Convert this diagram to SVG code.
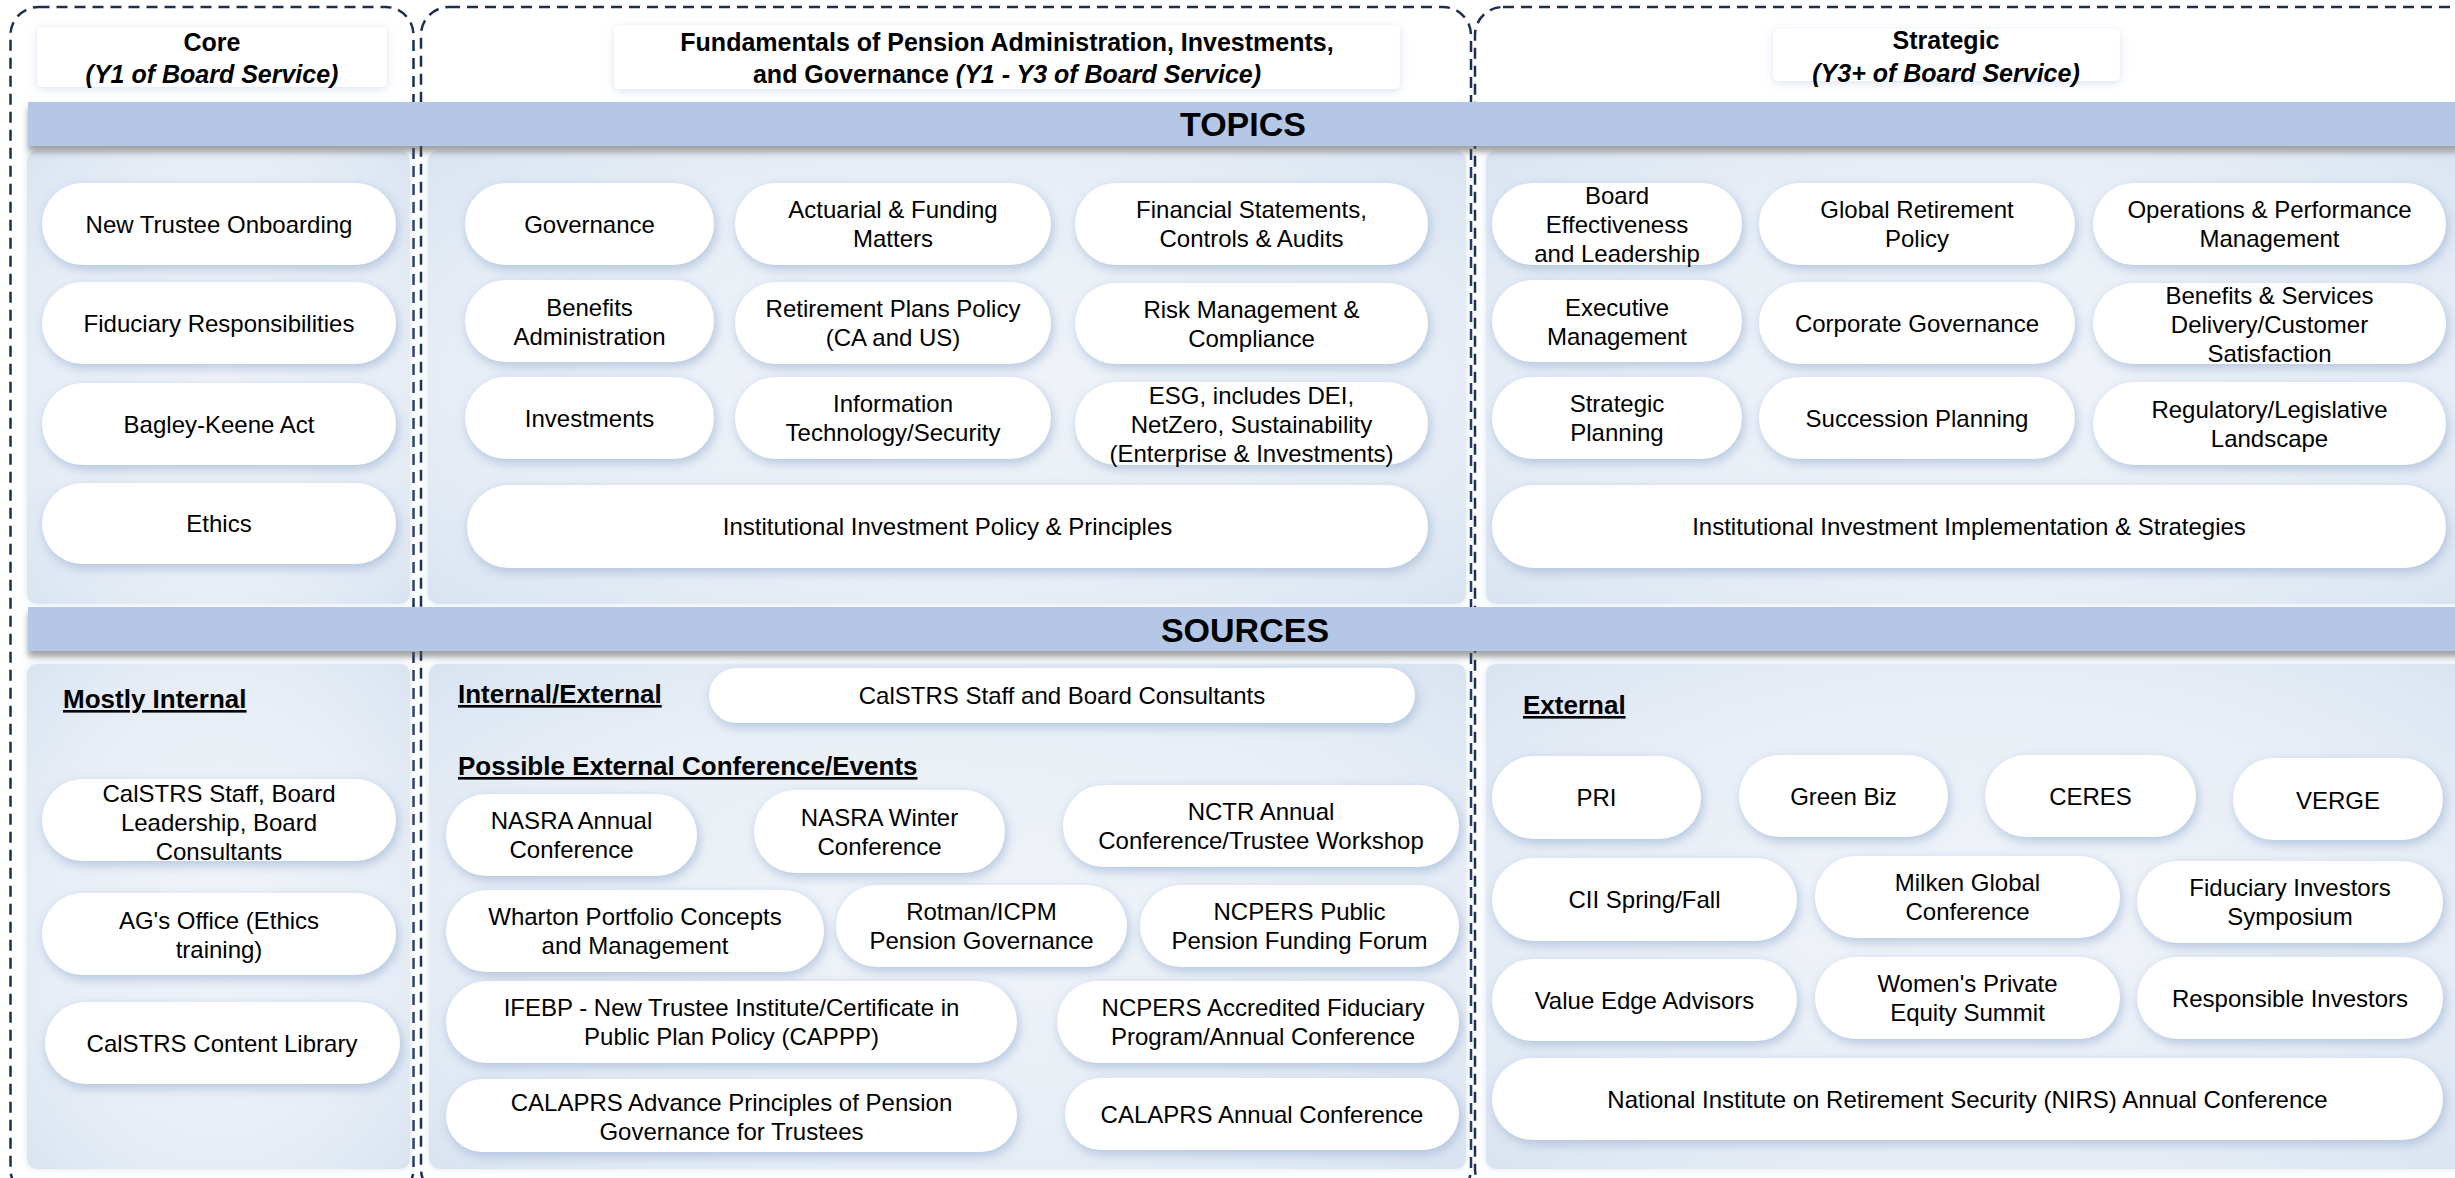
<svg xmlns="http://www.w3.org/2000/svg" width="2455" height="1178" viewBox="0 0 2455 1178">
<style>
text{font-family:"Liberation Sans",Arial,sans-serif;fill:#000}
.t{font-size:24px;text-anchor:middle}
.h{font-size:25px;font-weight:bold;text-anchor:middle}
.band-t{font-size:34px;font-weight:bold;text-anchor:middle}
.sub{font-size:26px;font-weight:bold;text-decoration:underline}
.pill{fill:#fff;filter:url(#pillSh)}
.panel{fill:url(#panelG);filter:url(#panelSh)}
.band{fill:#b4c7e7;filter:url(#bandSh)}
.hdr{fill:#fff;filter:url(#hdrSh)}
.frame{fill:none;stroke:#1b2f55;stroke-width:2.5;stroke-dasharray:11 7}
</style>
<defs>
<radialGradient id="panelG" cx="0.5" cy="0.5" r="0.75">
<stop offset="0" stop-color="#f1f4f9"/>
<stop offset="0.6" stop-color="#e8eef6"/>
<stop offset="1" stop-color="#d7e2f0"/>
</radialGradient>
<filter id="pillSh" x="-20%" y="-30%" width="140%" height="160%">
<feDropShadow dx="2" dy="4" stdDeviation="6" flood-color="#9fb5d6" flood-opacity="0.75"/>
</filter>
<filter id="panelSh" x="-5%" y="-5%" width="110%" height="110%">
<feDropShadow dx="0" dy="0" stdDeviation="4" flood-color="#c9d7ea" flood-opacity="0.6"/>
</filter>
<filter id="bandSh" x="-2%" y="-30%" width="104%" height="180%">
<feDropShadow dx="0" dy="6" stdDeviation="3" flood-color="#555" flood-opacity="0.55"/>
</filter>
<filter id="hdrSh" x="-10%" y="-30%" width="120%" height="160%">
<feDropShadow dx="0" dy="2" stdDeviation="5" flood-color="#c9d7ea" flood-opacity="0.7"/>
</filter>
</defs>
<rect x="0" y="0" width="2455" height="1178" fill="#fff"/>

<g id="frames">
<rect class="frame" x="10.5" y="7" width="403" height="1190" rx="28"/>
<rect class="frame" x="421" y="7" width="1050" height="1190" rx="28"/>
<rect class="frame" x="1475" y="7" width="1100" height="1190" rx="28"/>
</g>

<g id="headers">
<g id="hdr-core">
<rect class="hdr" x="37" y="27" width="350" height="60" rx="5"/>
<text class="h" x="212" y="51">Core</text>
<text class="h" x="212" y="83" font-style="italic">(Y1 of Board Service)</text>
</g>
<g id="hdr-fund">
<rect class="hdr" x="614" y="25" width="786" height="64" rx="5"/>
<text class="h" x="1007" y="51">Fundamentals of Pension Administration, Investments,</text>
<text class="h" x="1007" y="83">and Governance <tspan font-style="italic">(Y1 - Y3 of Board Service)</tspan></text>
</g>
<g id="hdr-strat">
<rect class="hdr" x="1773" y="29" width="347" height="52" rx="5"/>
<text class="h" x="1946" y="49">Strategic</text>
<text class="h" x="1946" y="82" font-style="italic">(Y3+ of Board Service)</text>
</g>
</g>

<g id="panels">
<rect class="panel" x="27" y="151" width="383" height="453" rx="10"/>
<rect class="panel" x="428" y="151" width="1038" height="453" rx="10"/>
<rect class="panel" x="1486" y="151" width="990" height="453" rx="10"/>
<rect class="panel" x="27" y="664" width="383" height="505" rx="10"/>
<rect class="panel" x="429" y="664" width="1037" height="505" rx="10"/>
<rect class="panel" x="1486" y="664" width="990" height="505" rx="10"/>
</g>

<g id="band-topics">
<rect class="band" x="28" y="102" width="2440" height="44"/>
<text class="band-t" x="1243" y="136">TOPICS</text>
</g>
<g id="band-sources">
<rect class="band" x="28" y="607" width="2440" height="44"/>
<text class="band-t" x="1245" y="642">SOURCES</text>
</g>

<g id="core-topics">
<g id="n-onboarding"><rect class="pill" x="42" y="183" width="354" height="82" rx="41"/><text class="t" x="219" y="232.5">New Trustee Onboarding</text></g>
<g id="n-fiduciary"><rect class="pill" x="42" y="282" width="354" height="82" rx="41"/><text class="t" x="219" y="331.5">Fiduciary Responsibilities</text></g>
<g id="n-bagley"><rect class="pill" x="42" y="383" width="354" height="82" rx="41"/><text class="t" x="219" y="432.5">Bagley-Keene Act</text></g>
<g id="n-ethics"><rect class="pill" x="42" y="483" width="354" height="81" rx="40.5"/><text class="t" x="219" y="532">Ethics</text></g>
</g>

<g id="fund-topics">
<g id="n-governance"><rect class="pill" x="465" y="183" width="249" height="82" rx="41"/><text class="t" x="589.5" y="232.5">Governance</text></g>
<g id="n-actuarial"><rect class="pill" x="735" y="183" width="316" height="82" rx="41"/><text class="t" x="893" y="218">Actuarial &amp; Funding<tspan x="893" dy="29">Matters</tspan></text></g>
<g id="n-financial"><rect class="pill" x="1075" y="183" width="353" height="82" rx="41"/><text class="t" x="1251.5" y="218">Financial Statements,<tspan x="1251.5" dy="29">Controls &amp; Audits</tspan></text></g>
<g id="n-benefits"><rect class="pill" x="465" y="280" width="249" height="82" rx="41"/><text class="t" x="589.5" y="316">Benefits<tspan x="589.5" dy="29">Administration</tspan></text></g>
<g id="n-retirement"><rect class="pill" x="735" y="282" width="316" height="82" rx="41"/><text class="t" x="893" y="317">Retirement Plans Policy<tspan x="893" dy="29">(CA and US)</tspan></text></g>
<g id="n-risk"><rect class="pill" x="1075" y="283" width="353" height="81" rx="40.5"/><text class="t" x="1251.5" y="317.5">Risk Management &amp;<tspan x="1251.5" dy="29">Compliance</tspan></text></g>
<g id="n-investments"><rect class="pill" x="465" y="377" width="249" height="82" rx="41"/><text class="t" x="589.5" y="426.5">Investments</text></g>
<g id="n-it"><rect class="pill" x="735" y="377" width="316" height="82" rx="41"/><text class="t" x="893" y="412">Information<tspan x="893" dy="29">Technology/Security</tspan></text></g>
<g id="n-esg"><rect class="pill" x="1075" y="382" width="353" height="83" rx="41.5"/><text class="t" x="1251.5" y="404">ESG, includes DEI,<tspan x="1251.5" dy="29">NetZero, Sustainability</tspan><tspan x="1251.5" dy="29">(Enterprise &amp; Investments)</tspan></text></g>
<g id="n-inst-policy"><rect class="pill" x="467" y="485" width="961" height="83" rx="41.5"/><text class="t" x="947.5" y="535">Institutional Investment Policy &amp; Principles</text></g>
</g>

<g id="strat-topics">
<g id="n-board"><rect class="pill" x="1492" y="183" width="250" height="82" rx="41"/><text class="t" x="1617" y="203.5">Board<tspan x="1617" dy="29">Effectiveness</tspan><tspan x="1617" dy="29">and Leadership</tspan></text></g>
<g id="n-global"><rect class="pill" x="1759" y="183" width="316" height="82" rx="41"/><text class="t" x="1917" y="218">Global Retirement<tspan x="1917" dy="29">Policy</tspan></text></g>
<g id="n-operations"><rect class="pill" x="2093" y="183" width="353" height="82" rx="41"/><text class="t" x="2269.5" y="218">Operations &amp; Performance<tspan x="2269.5" dy="29">Management</tspan></text></g>
<g id="n-executive"><rect class="pill" x="1492" y="280" width="250" height="82" rx="41"/><text class="t" x="1617" y="316">Executive<tspan x="1617" dy="29">Management</tspan></text></g>
<g id="n-corporate"><rect class="pill" x="1759" y="282" width="316" height="82" rx="41"/><text class="t" x="1917" y="331.5">Corporate Governance</text></g>
<g id="n-services"><rect class="pill" x="2093" y="283" width="353" height="81" rx="40.5"/><text class="t" x="2269.5" y="304">Benefits &amp; Services<tspan x="2269.5" dy="29">Delivery/Customer</tspan><tspan x="2269.5" dy="29">Satisfaction</tspan></text></g>
<g id="n-strategic-planning"><rect class="pill" x="1492" y="377" width="250" height="82" rx="41"/><text class="t" x="1617" y="412">Strategic<tspan x="1617" dy="29">Planning</tspan></text></g>
<g id="n-succession"><rect class="pill" x="1759" y="377" width="316" height="82" rx="41"/><text class="t" x="1917" y="426.5">Succession Planning</text></g>
<g id="n-regulatory"><rect class="pill" x="2093" y="382" width="353" height="83" rx="41.5"/><text class="t" x="2269.5" y="418">Regulatory/Legislative<tspan x="2269.5" dy="29">Landscape</tspan></text></g>
<g id="n-inst-impl"><rect class="pill" x="1492" y="485" width="954" height="83" rx="41.5"/><text class="t" x="1969" y="535">Institutional Investment Implementation &amp; Strategies</text></g>
</g>

<g id="core-sources">
<text class="sub" x="63" y="708">Mostly Internal</text>
<g id="n-staff-board"><rect class="pill" x="42" y="779" width="354" height="82" rx="41"/><text class="t" x="219" y="801.5">CalSTRS Staff, Board<tspan x="219" dy="29">Leadership, Board</tspan><tspan x="219" dy="29">Consultants</tspan></text></g>
<g id="n-ag"><rect class="pill" x="42" y="893" width="354" height="82" rx="41"/><text class="t" x="219" y="929">AG's Office (Ethics<tspan x="219" dy="29">training)</tspan></text></g>
<g id="n-library"><rect class="pill" x="45" y="1002" width="355" height="82" rx="41"/><text class="t" x="222" y="1051.5">CalSTRS Content Library</text></g>
</g>

<g id="fund-sources">
<text class="sub" x="458" y="703">Internal/External</text>
<g id="n-staff-consultants"><rect class="pill" x="709" y="668" width="706" height="55" rx="27.5"/><text class="t" x="1062" y="704">CalSTRS Staff and Board Consultants</text></g>
<text class="sub" x="458" y="775">Possible External Conference/Events</text>
<g id="n-nasra-annual"><rect class="pill" x="446" y="794" width="251" height="82" rx="41"/><text class="t" x="571.5" y="829">NASRA Annual<tspan x="571.5" dy="29">Conference</tspan></text></g>
<g id="n-nasra-winter"><rect class="pill" x="754" y="790" width="251" height="83" rx="41.5"/><text class="t" x="879.5" y="825.5">NASRA Winter<tspan x="879.5" dy="29">Conference</tspan></text></g>
<g id="n-nctr"><rect class="pill" x="1063" y="785" width="396" height="82" rx="41"/><text class="t" x="1261" y="820">NCTR Annual<tspan x="1261" dy="29">Conference/Trustee Workshop</tspan></text></g>
<g id="n-wharton"><rect class="pill" x="446" y="890" width="378" height="82" rx="41"/><text class="t" x="635" y="925">Wharton Portfolio Concepts<tspan x="635" dy="29">and Management</tspan></text></g>
<g id="n-rotman"><rect class="pill" x="836" y="885" width="291" height="82" rx="41"/><text class="t" x="981.5" y="920">Rotman/ICPM<tspan x="981.5" dy="29">Pension Governance</tspan></text></g>
<g id="n-ncpers-public"><rect class="pill" x="1140" y="885" width="319" height="82" rx="41"/><text class="t" x="1299.5" y="920">NCPERS Public<tspan x="1299.5" dy="29">Pension Funding Forum</tspan></text></g>
<g id="n-ifebp"><rect class="pill" x="446" y="981" width="571" height="82" rx="41"/><text class="t" x="731.5" y="1016">IFEBP - New Trustee Institute/Certificate in<tspan x="731.5" dy="29">Public Plan Policy (CAPPP)</tspan></text></g>
<g id="n-ncpers-accredited"><rect class="pill" x="1057" y="981" width="402" height="82" rx="41"/><text class="t" x="1263" y="1016">NCPERS Accredited Fiduciary<tspan x="1263" dy="29">Program/Annual Conference</tspan></text></g>
<g id="n-calaprs-advance"><rect class="pill" x="446" y="1079" width="571" height="73" rx="36.5"/><text class="t" x="731.5" y="1110.5">CALAPRS Advance Principles of Pension<tspan x="731.5" dy="29">Governance for Trustees</tspan></text></g>
<g id="n-calaprs-annual"><rect class="pill" x="1065" y="1078" width="394" height="72" rx="36"/><text class="t" x="1262" y="1122.5">CALAPRS Annual Conference</text></g>
</g>

<g id="strat-sources">
<text class="sub" x="1523" y="714">External</text>
<g id="n-pri"><rect class="pill" x="1492" y="756" width="209" height="83" rx="41.5"/><text class="t" x="1596.5" y="806">PRI</text></g>
<g id="n-greenbiz"><rect class="pill" x="1739" y="755" width="209" height="82" rx="41"/><text class="t" x="1843.5" y="804.5">Green Biz</text></g>
<g id="n-ceres"><rect class="pill" x="1985" y="755" width="211" height="82" rx="41"/><text class="t" x="2090.5" y="804.5">CERES</text></g>
<g id="n-verge"><rect class="pill" x="2233" y="758" width="210" height="82" rx="41"/><text class="t" x="2338" y="808.5">VERGE</text></g>
<g id="n-cii"><rect class="pill" x="1492" y="858" width="305" height="83" rx="41.5"/><text class="t" x="1644.5" y="908">CII Spring/Fall</text></g>
<g id="n-milken"><rect class="pill" x="1815" y="856" width="305" height="82" rx="41"/><text class="t" x="1967.5" y="891">Milken Global<tspan x="1967.5" dy="29">Conference</tspan></text></g>
<g id="n-fiduciary-investors"><rect class="pill" x="2137" y="861" width="306" height="82" rx="41"/><text class="t" x="2290" y="896">Fiduciary Investors<tspan x="2290" dy="29">Symposium</tspan></text></g>
<g id="n-value-edge"><rect class="pill" x="1492" y="959" width="305" height="82" rx="41"/><text class="t" x="1644.5" y="1008.5">Value Edge Advisors</text></g>
<g id="n-womens"><rect class="pill" x="1815" y="957" width="305" height="82" rx="41"/><text class="t" x="1967.5" y="992">Women's Private<tspan x="1967.5" dy="29">Equity Summit</tspan></text></g>
<g id="n-responsible"><rect class="pill" x="2137" y="957" width="306" height="82" rx="41"/><text class="t" x="2290" y="1006.5">Responsible Investors</text></g>
<g id="n-nirs"><rect class="pill" x="1492" y="1058" width="951" height="82" rx="41"/><text class="t" x="1967.5" y="1107.5">National Institute on Retirement Security (NIRS) Annual Conference</text></g>
</g>

<g id="connectors"></g>
</svg>
